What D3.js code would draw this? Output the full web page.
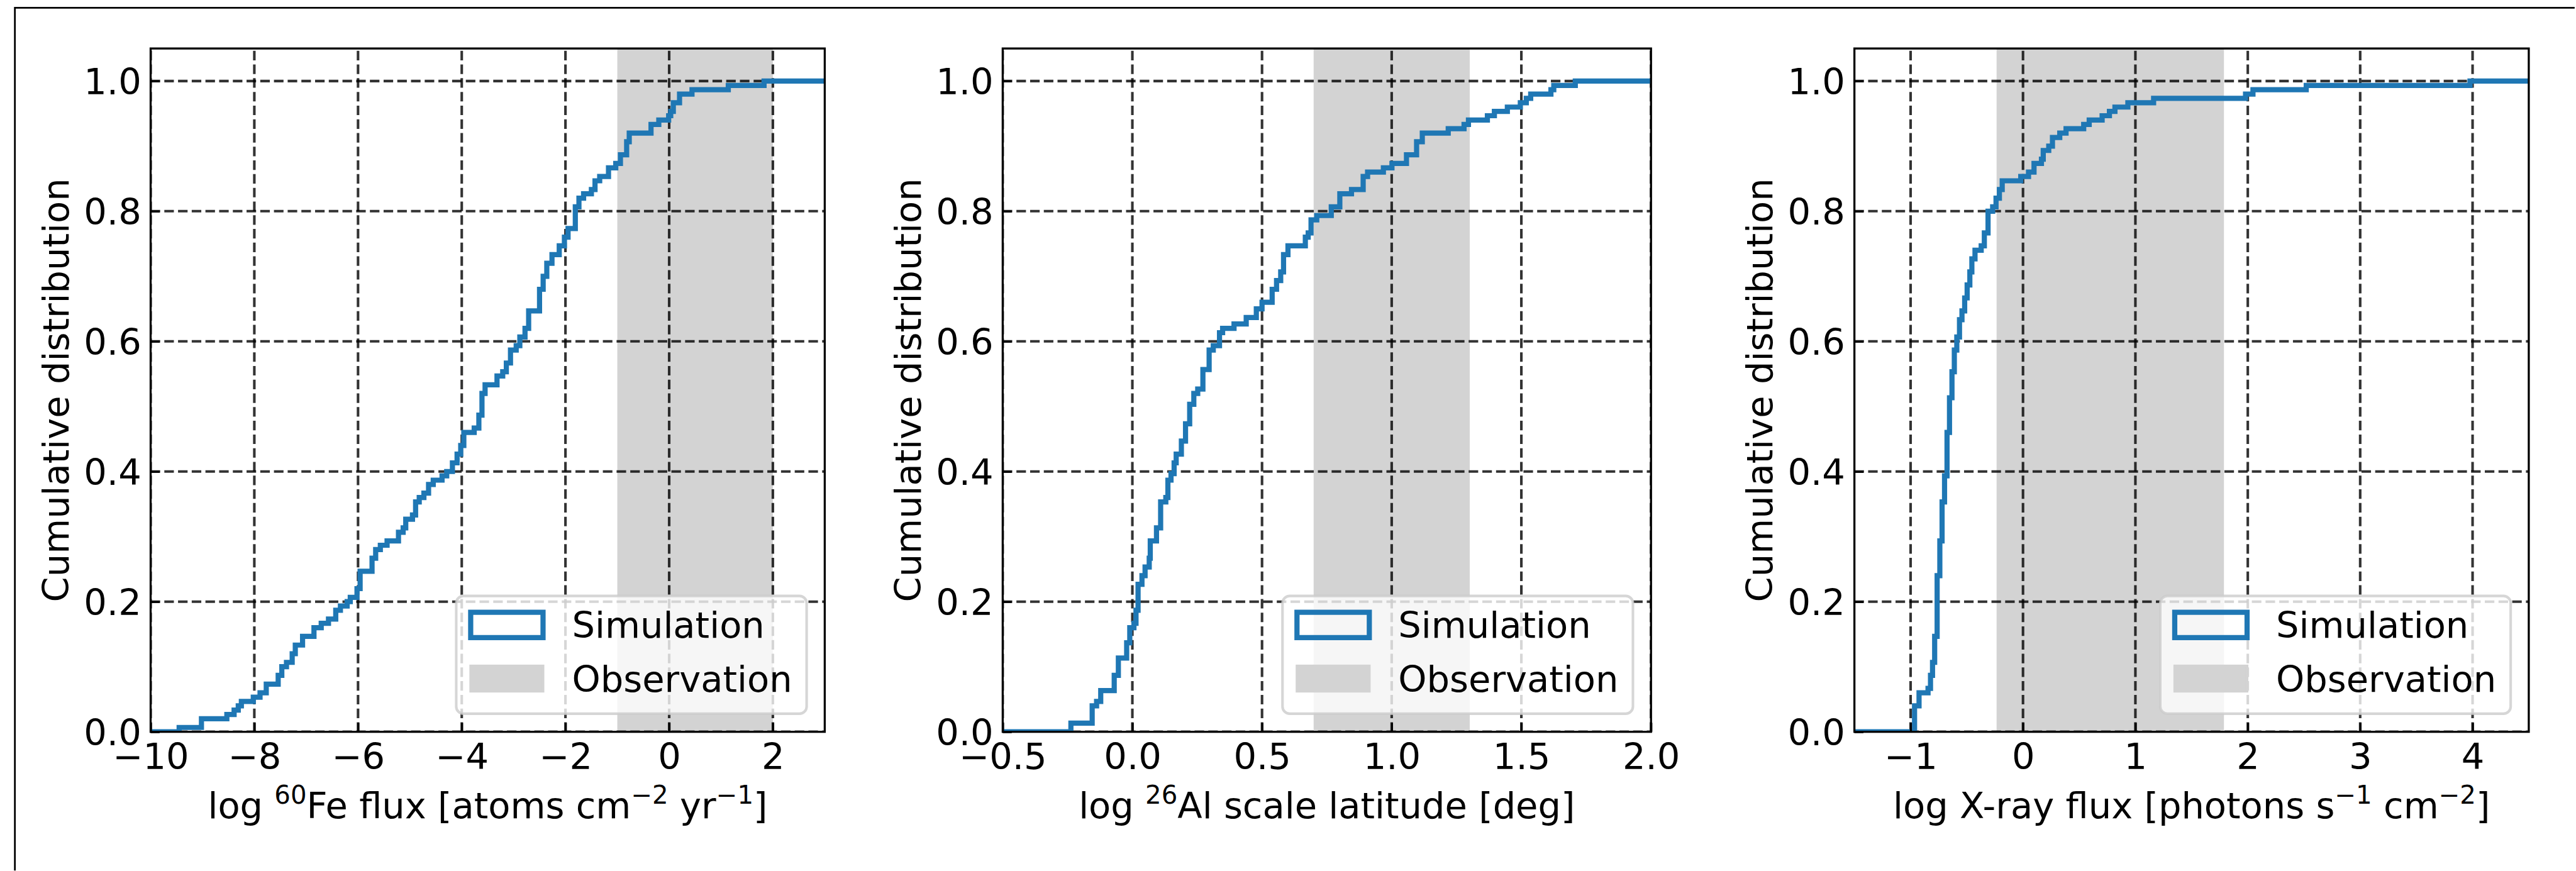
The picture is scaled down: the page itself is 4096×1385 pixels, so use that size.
<!DOCTYPE html>
<html>
<head>
<meta charset="utf-8">
<script src="https://cdn.jsdelivr.net/npm/d3@7"></script>
<style>
  html, body { margin: 0; padding: 0; background: #fff; }
  svg { display: block; }
</style>
</head>
<body>
<div id="chart"></div>
<script>
const width = 4096;
const height = 1385;
const scale = 0.986;          // everything below is laid out in reference pixels
const fontSize = 58.33;
const blue = "#1f77b4";
const gray = "#d3d3d3";

// cumulative step curves: [x where the step happens, level after the step]
const fe60Steps = [
  [-9.45, 0.0067], [-9.02, 0.02], [-8.53, 0.0267], [-8.39, 0.0333], [-8.31, 0.04], [-8.25, 0.0467],
  [-8.02, 0.0533], [-7.89, 0.06], [-7.77, 0.0733], [-7.54, 0.0867], [-7.47, 0.1], [-7.38, 0.1067],
  [-7.27, 0.12], [-7.21, 0.1333], [-7.07, 0.1467], [-6.85, 0.16], [-6.71, 0.1667], [-6.57, 0.1733],
  [-6.43, 0.1867], [-6.34, 0.1933], [-6.21, 0.2], [-6.15, 0.2067], [-6.02, 0.22], [-5.96, 0.2467],
  [-5.73, 0.2667], [-5.66, 0.28], [-5.57, 0.2867], [-5.44, 0.2933], [-5.22, 0.3067], [-5.13, 0.3133],
  [-5.08, 0.3267], [-4.95, 0.3333], [-4.89, 0.3533], [-4.82, 0.36], [-4.73, 0.3667], [-4.64, 0.38],
  [-4.55, 0.3867], [-4.38, 0.3933], [-4.29, 0.4], [-4.18, 0.4133], [-4.09, 0.4267], [-4.02, 0.44],
  [-3.96, 0.46], [-3.76, 0.4667], [-3.67, 0.4867], [-3.61, 0.52], [-3.55, 0.5333], [-3.32, 0.5467],
  [-3.21, 0.5533], [-3.14, 0.5667], [-3.06, 0.5867], [-2.95, 0.5933], [-2.88, 0.6067], [-2.78, 0.62],
  [-2.71, 0.6467], [-2.50, 0.68], [-2.43, 0.70], [-2.36, 0.72], [-2.26, 0.7333], [-2.12, 0.7467],
  [-2.02, 0.76], [-1.95, 0.7733], [-1.81, 0.8067], [-1.74, 0.82], [-1.65, 0.8267], [-1.50, 0.8333],
  [-1.43, 0.8467], [-1.34, 0.8533], [-1.17, 0.8667], [-1.03, 0.8733], [-0.94, 0.8867], [-0.82, 0.9067],
  [-0.77, 0.92], [-0.35, 0.9333], [-0.20, 0.94], [-0.01, 0.9467], [0.03, 0.9533], [0.08, 0.9667],
  [0.20, 0.98], [0.44, 0.9867], [1.14, 0.9933], [1.83, 1.0]
];

const al26Steps = [
  [-0.237, 0.0133], [-0.155, 0.04], [-0.138, 0.0467], [-0.122, 0.0633], [-0.070, 0.0867], [-0.054, 0.1133],
  [-0.022, 0.1367], [-0.010, 0.16], [0.006, 0.1667], [0.014, 0.1867], [0.022, 0.2267], [0.037, 0.24],
  [0.049, 0.2533], [0.065, 0.2667], [0.069, 0.2933], [0.093, 0.3133], [0.109, 0.3533], [0.129, 0.36],
  [0.137, 0.3867], [0.149, 0.3967], [0.161, 0.4133], [0.169, 0.4267], [0.189, 0.4467], [0.205, 0.4733],
  [0.221, 0.5033], [0.237, 0.52], [0.252, 0.5267], [0.272, 0.5567], [0.296, 0.5867], [0.312, 0.5933],
  [0.336, 0.6133], [0.348, 0.62], [0.392, 0.6267], [0.439, 0.6367], [0.478, 0.65], [0.5, 0.66],
  [0.539, 0.68], [0.556, 0.6933], [0.572, 0.7067], [0.583, 0.7333], [0.6, 0.7467], [0.667, 0.76],
  [0.678, 0.7667], [0.689, 0.7867], [0.711, 0.7933], [0.767, 0.8067], [0.8, 0.8267], [0.845, 0.8333],
  [0.89, 0.8533], [0.907, 0.86], [0.968, 0.8667], [1.001, 0.8733], [1.057, 0.8867], [1.096, 0.9067],
  [1.118, 0.92], [1.218, 0.9267], [1.279, 0.9333], [1.296, 0.94], [1.369, 0.9467], [1.396, 0.9533],
  [1.446, 0.96], [1.496, 0.9667], [1.519, 0.9733], [1.536, 0.98], [1.614, 0.9867], [1.625, 0.9933],
  [1.708, 1.0]
];

const xraySteps = [
  [-0.965, 0.04], [-0.925, 0.06], [-0.845, 0.0667], [-0.823, 0.0867], [-0.805, 0.1067], [-0.786, 0.1467],
  [-0.764, 0.24], [-0.740, 0.2933], [-0.720, 0.3533], [-0.698, 0.3933], [-0.676, 0.46], [-0.654, 0.5133],
  [-0.632, 0.5533], [-0.611, 0.5867], [-0.589, 0.6067], [-0.565, 0.6333], [-0.543, 0.6467], [-0.519, 0.6667],
  [-0.497, 0.6867], [-0.473, 0.7067], [-0.455, 0.7267], [-0.427, 0.74], [-0.372, 0.7467], [-0.344, 0.7667],
  [-0.311, 0.80], [-0.27, 0.8067], [-0.24, 0.82], [-0.21, 0.8333], [-0.185, 0.8467], [-0.02, 0.8533],
  [0.049, 0.86], [0.098, 0.8733], [0.164, 0.88], [0.18, 0.8933], [0.229, 0.90], [0.262, 0.9133],
  [0.327, 0.92], [0.383, 0.9267], [0.54, 0.9333], [0.589, 0.94], [0.704, 0.9467], [0.769, 0.9533],
  [0.818, 0.96], [0.933, 0.9667], [1.162, 0.9733], [1.98, 0.98], [2.046, 0.9867], [2.52, 0.9933],
  [3.977, 1.0]
];

// observed ranges (grey bands)
const fe60Obs = [-1.0, 2.0];
const al26Obs = [0.699, 1.301];
const xrayObs = [-0.235, 1.788];

const yTicks = [0, 0.2, 0.4, 0.6, 0.8, 1.0];
const fe60Ticks = [-10, -8, -6, -4, -2, 0, 2];
const al26Ticks = [-0.5, 0, 0.5, 1.0, 1.5, 2.0];
const xrayTicks = [-1, 0, 1, 2, 3, 4];

const legendLabels = ["Simulation", "Observation"];
const yLabel = "Cumulative distribution";

// label pieces: [text, superscript?]
const fe60Label = [["log ", 0], ["60", 1], ["Fe flux [atoms cm", 0], ["\u22122", 1], [" yr", 0], ["\u22121", 1], ["]", 0]];
const al26Label = [["log ", 0], ["26", 1], ["Al scale latitude [deg]", 0]];
const xrayLabel = [["log X-ray flux [photons s", 0], ["\u22121", 1], [" cm", 0], ["\u22122", 1], ["]", 0]];

const minus = s => s.replace("-", "\u2212");

const panels = [
  { left: 242.9, right: 1330, domain: [-10, 3], ticks: fe60Ticks, fmt: d => minus(d3.format("d")(d)),
    steps: fe60Steps, obs: fe60Obs, label: fe60Label },
  { left: 1617, right: 2662.5, domain: [-0.5, 2.0], ticks: al26Ticks, fmt: d => minus(d3.format(".1f")(d)),
    steps: al26Steps, obs: al26Obs, label: al26Label },
  { left: 2990.5, right: 4078, domain: [-1.5, 4.5], ticks: xrayTicks, fmt: d => minus(d3.format("d")(d)),
    steps: xraySteps, obs: xrayObs, label: xrayLabel }
];
const axTop = 78.2;
const axBottom = 1180.2;

const svg = d3.select("#chart").append("svg")
  .attr("width", width)
  .attr("height", height)
  .style("font-family", "'DejaVu Sans', sans-serif");

const root = svg.append("g").attr("transform", `scale(${scale})`);

// outer figure frame (only top and left edges are inside the picture)
root.append("path")
  .attr("d", "M24,1404V12.5H4152")
  .attr("fill", "none")
  .attr("stroke", "#000")
  .attr("stroke-width", 2.8);

const yScale = d3.scaleLinear().domain([0, 1.05]).range([axBottom, axTop]);

panels.forEach(function(p, i) {
  const g = root.append("g");
  const xScale = d3.scaleLinear().domain(p.domain).range([p.left, p.right]);

  g.append("clipPath").attr("id", "clip" + i)
    .append("rect")
    .attr("x", p.left).attr("y", axTop)
    .attr("width", p.right - p.left).attr("height", axBottom - axTop);

  const plot = g.append("g").attr("clip-path", `url(#clip${i})`);

  // observation band
  plot.append("rect")
    .attr("x", xScale(p.obs[0]))
    .attr("y", axTop)
    .attr("width", xScale(p.obs[1]) - xScale(p.obs[0]))
    .attr("height", axBottom - axTop)
    .attr("fill", gray);

  // dashed grid
  plot.selectAll(".vgrid").data(p.ticks).join("line")
    .attr("x1", d => xScale(d)).attr("x2", d => xScale(d))
    .attr("y1", axBottom).attr("y2", axTop)
    .attr("stroke", "#000").attr("stroke-opacity", 0.8)
    .attr("stroke-width", 4.17).attr("stroke-dasharray", "15.4,6.7");
  plot.selectAll(".hgrid").data(yTicks).join("line")
    .attr("x1", p.left).attr("x2", p.right)
    .attr("y1", d => yScale(d)).attr("y2", d => yScale(d))
    .attr("stroke", "#000").attr("stroke-opacity", 0.8)
    .attr("stroke-width", 4.17).attr("stroke-dasharray", "15.4,6.7");

  // cumulative step line
  const pts = [[p.domain[0], 0]].concat(p.steps, [[p.domain[1], p.steps[p.steps.length - 1][1]]]);
  const line = d3.line()
    .x(d => xScale(d[0]))
    .y(d => yScale(d[1]))
    .curve(d3.curveStepAfter);
  plot.append("path")
    .datum(pts)
    .attr("fill", "none")
    .attr("stroke", blue)
    .attr("stroke-width", 8.33)
    .attr("stroke-linejoin", "miter")
    .attr("d", line);

  // axes with inward ticks
  const xAxis = g.append("g")
    .attr("transform", `translate(0,${axBottom})`)
    .call(d3.axisBottom(xScale).tickValues(p.ticks).tickFormat(p.fmt)
      .tickSizeInner(-14.6).tickSizeOuter(0).tickPadding(0));
  const yAxis = g.append("g")
    .attr("transform", `translate(${p.left},0)`)
    .call(d3.axisLeft(yScale).tickValues(yTicks).tickFormat(d3.format(".1f"))
      .tickSizeInner(-14.6).tickSizeOuter(0).tickPadding(15));
  [xAxis, yAxis].forEach(a => {
    a.select(".domain").remove();
    a.selectAll(".tick line").attr("stroke", "#000").attr("stroke-width", 3.33);
    a.selectAll(".tick text").attr("fill", "#000").style("font-size", fontSize + "px")
      .style("font-family", "'DejaVu Sans', sans-serif");
  });
  xAxis.selectAll(".tick text").attr("y", 60).attr("dy", 0);
  yAxis.selectAll(".tick text").attr("dy", "0.365em");

  // spines
  g.append("rect")
    .attr("x", p.left).attr("y", axTop)
    .attr("width", p.right - p.left).attr("height", axBottom - axTop)
    .attr("fill", "none").attr("stroke", "#000").attr("stroke-width", 3.33);

  // x label with superscripts
  const xl = g.append("text")
    .attr("x", (p.left + p.right) / 2)
    .attr("y", axBottom + 139)
    .attr("text-anchor", "middle")
    .style("font-size", fontSize + "px");
  let raised = false;
  p.label.forEach(function(part) {
    const t = xl.append("tspan").text(part[0]);
    if (part[1] && !raised) { t.attr("dy", -23).style("font-size", (fontSize * 0.7) + "px"); raised = true; }
    else if (!part[1] && raised) { t.attr("dy", 23); raised = false; }
    else if (part[1]) { t.style("font-size", (fontSize * 0.7) + "px"); }
  });

  // y label
  g.append("text")
    .attr("transform", `translate(${p.left - 132},${(axTop + axBottom) / 2}) rotate(-90)`)
    .attr("text-anchor", "middle")
    .style("font-size", fontSize + "px")
    .text(yLabel);

  // legend, lower right
  const leg = g.append("g");
  const legH = 190;
  const texts = legendLabels.map((lab, k) => leg.append("text")
    .attr("y", k === 0 ? 67.6 : 155)
    .style("font-size", fontSize + "px")
    .text(lab));
  const textW = d3.max(texts, t => t.node().getComputedTextLength());
  const legW = 23.33 * 2 + 116.67 + 46.67 + textW;
  const lx = p.right - 29.17 - legW;
  const ly = axBottom - 29.17 - legH;
  leg.attr("transform", `translate(${lx},${ly})`);
  texts.forEach(t => t.attr("x", 186.67));
  leg.insert("rect", ":first-child")
    .attr("width", legW).attr("height", legH)
    .attr("rx", 11.7).attr("ry", 11.7)
    .attr("fill", "#fff").attr("fill-opacity", 0.8)
    .attr("stroke", "#ccc").attr("stroke-opacity", 0.8)
    .attr("stroke-width", 4.17);
  leg.append("rect")
    .attr("x", 23.33).attr("y", 26.4)
    .attr("width", 116.67).attr("height", 40.83)
    .attr("fill", "none").attr("stroke", blue).attr("stroke-width", 8.33);
  leg.append("rect")
    .attr("x", 23.33).attr("y", 112.9)
    .attr("width", 116.67).attr("height", 40.83)
    .attr("fill", gray).attr("stroke", gray).attr("stroke-width", 4.17);
});
</script>
</body>
</html>
